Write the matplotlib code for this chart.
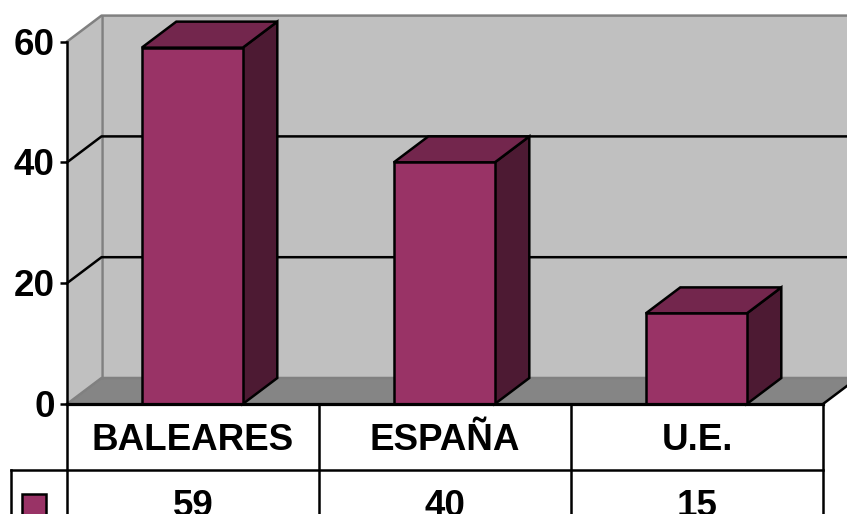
import matplotlib
matplotlib.use("Agg")
import matplotlib.pyplot as plt
from matplotlib.patches import Polygon

categories = ["BALEARES", "ESPAÑA", "U.E."]
values = [59, 40, 15]
y_ticks = [0, 20, 40, 60]

W, H = 847, 514
X0, CAT_W = 67, 252          # pixel origin and width of one category
Y0, UNIT = 404, 6.04         # pixel baseline and pixels per unit
DX = 34.5 / CAT_W            # oblique depth in category units
DY = 26 / UNIT               # oblique depth in value units
BAR_W = 101 / CAT_W
BAR_SHIFT = -0.7 / CAT_W
HEAD = -66 / UNIT            # table header row bottom
ROW = -132 / UNIT            # data row bottom
TXT_DY = -3.5 / UNIT         # optical centring of the bold text

plt.rcParams["font.family"] = ["Liberation Sans", "DejaVu Sans"]
fig = plt.figure(figsize=(W / 100, H / 100), dpi=100)
ax = fig.add_axes([0, 0, 1, 1])
ax.set_xlim(-X0 / CAT_W, (W - X0) / CAT_W)
ax.set_ylim((Y0 - H) / UNIT, Y0 / UNIT)
ax.axis("off")

n = len(categories)
top = max(y_ticks)
WALL, FLOOR, GREY = "#C0C0C0", "#858585", "#808080"
FRONT, TOPC, SIDE = "#993366", "#73264D", "#4D1A33"
LW = 1.8
FS = 26.5

# walls and floor
ax.add_patch(Polygon([(0, 0), (0, top), (DX, top + DY), (DX, DY)], fc=WALL, ec="none", zorder=1))
ax.add_patch(Polygon([(DX, DY), (DX, top + DY), (n + DX, top + DY), (n + DX, DY)], fc=WALL, ec="none", zorder=1))
ax.add_patch(Polygon([(0, 0), (n, 0), (n + DX, DY), (DX, DY)], fc=FLOOR, ec="none", zorder=1))
ax.plot([0, DX, n + DX], [top, top + DY, top + DY], color=GREY, lw=LW, zorder=2)
ax.plot([DX, DX], [DY, top + DY], color=GREY, lw=LW, zorder=2)
ax.plot([0, DX, n + DX], [0, DY, DY], color=GREY, lw=LW, zorder=2)

# gridlines and ticks
for t in y_ticks[1:-1]:
    ax.plot([0, DX, n + DX], [t, t + DY, t + DY], color="black", lw=LW, zorder=3)
for t in y_ticks:
    ax.plot([-7 / CAT_W, 0], [t, t], color="black", lw=LW, zorder=6, solid_capstyle="butt")
    ax.text(-12.5 / CAT_W, t + TXT_DY, str(t), ha="right", va="center", fontsize=FS,
            fontweight="bold", zorder=7)
ax.plot([0, 0], [0, top], color="black", lw=LW, zorder=6)

# bars
for i, v in enumerate(values):
    c = i + 0.5 + BAR_SHIFT
    l, r = c - BAR_W / 2, c + BAR_W / 2
    ax.add_patch(Polygon([(r, 0), (r + DX, DY), (r + DX, v + DY), (r, v)], fc=SIDE, ec="black", lw=LW, zorder=4))
    ax.add_patch(Polygon([(l, v), (r, v), (r + DX, v + DY), (l + DX, v + DY)], fc=TOPC, ec="black", lw=LW, zorder=4))
    ax.add_patch(Polygon([(l, 0), (r, 0), (r, v), (l, v)], fc=FRONT, ec="black", lw=LW, zorder=5))

# data table
ax.plot([n, n + DX], [0, DY], color="black", lw=LW, zorder=6)
ax.plot([0, n], [0, 0], color="black", lw=LW + 0.5, zorder=6)
key_l = -56 / CAT_W
ax.plot([key_l, n], [HEAD, HEAD], color="black", lw=LW, zorder=6)
ax.plot([key_l, n], [ROW, ROW], color="black", lw=LW, zorder=6)
ax.plot([key_l, key_l], [HEAD, ROW], color="black", lw=LW, zorder=6)
for i in range(n + 1):
    ax.plot([i, i], [0, ROW], color="black", lw=LW, zorder=6)
for i, (c, v) in enumerate(zip(categories, values)):
    ax.text(i + 0.5, HEAD / 2 + TXT_DY, c, ha="center", va="center", fontsize=FS, fontweight="bold", zorder=7)
    ax.text(i + 0.5, (HEAD + ROW) / 2 + TXT_DY, str(v), ha="center", va="center", fontsize=FS, fontweight="bold", zorder=7)

# legend key
kx0, kx1 = -45 / CAT_W, -21 / CAT_W
ky0, ky1 = -114 / UNIT, -90 / UNIT
ax.add_patch(Polygon([(kx0, ky0), (kx1, ky0), (kx1, ky1), (kx0, ky1)], fc=FRONT, ec="black", lw=LW, zorder=6))

fig.savefig("out.png", dpi=100)
